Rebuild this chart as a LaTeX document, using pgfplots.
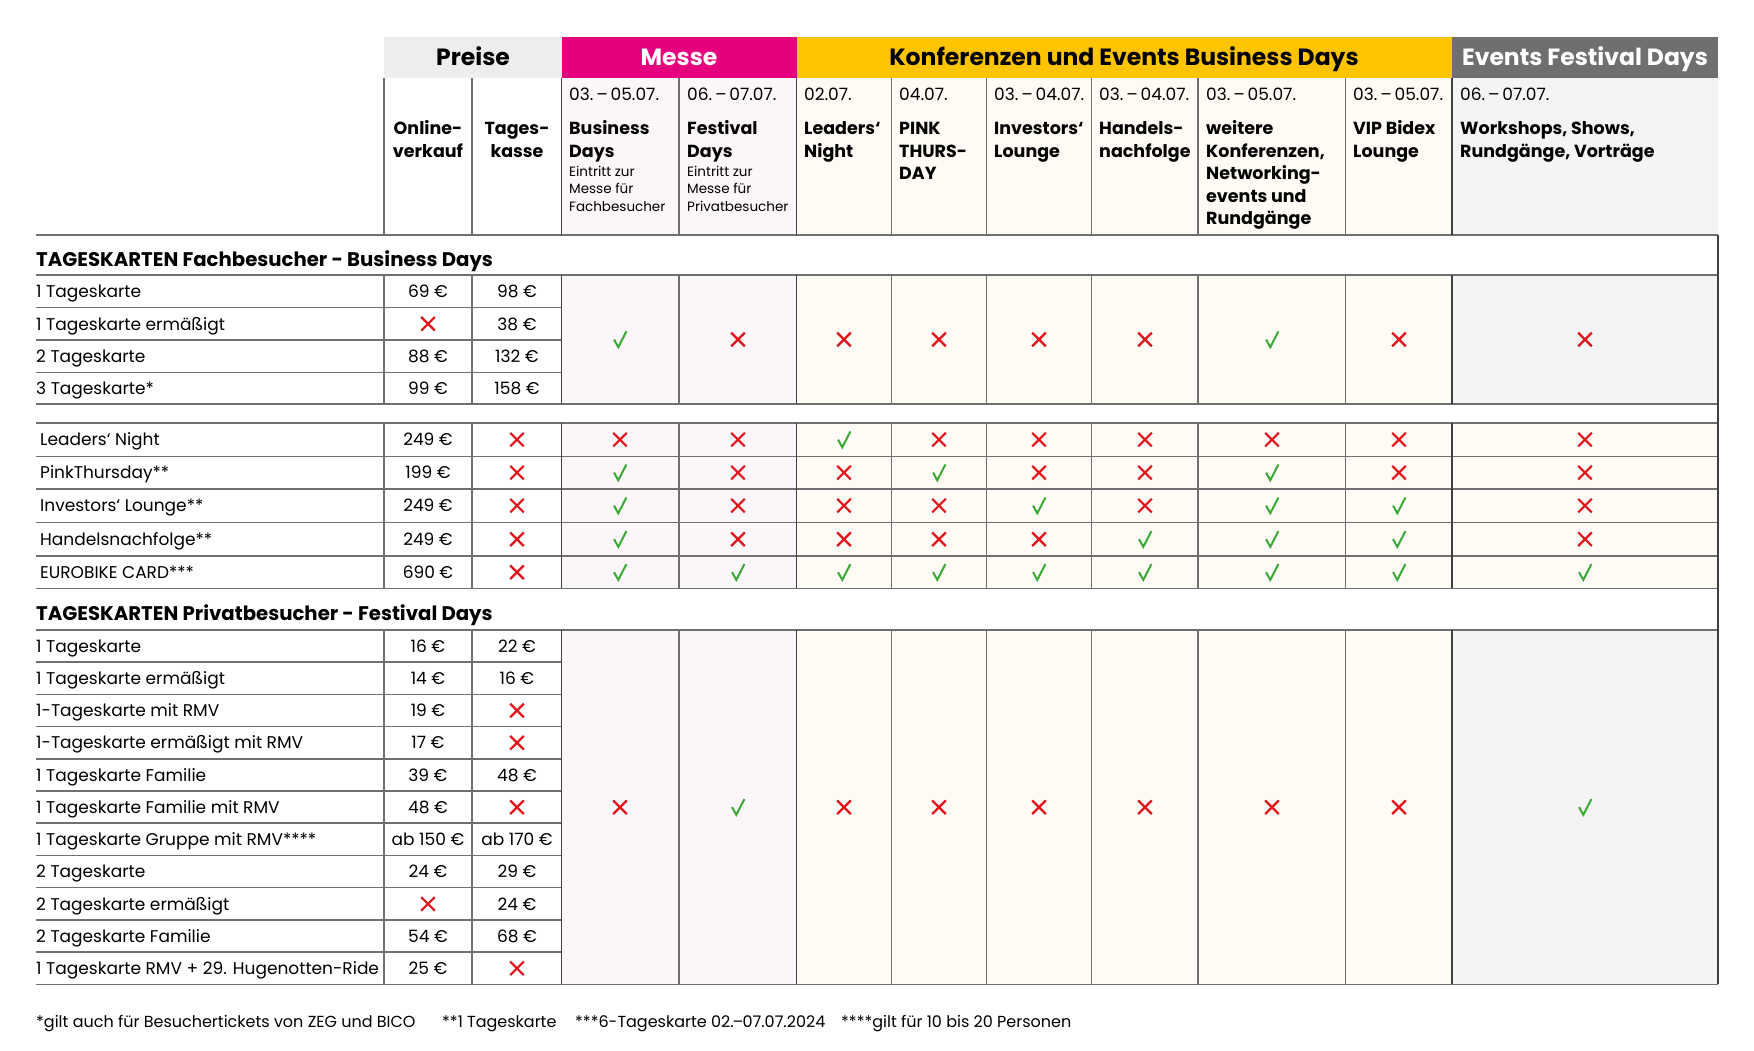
\documentclass[border=0pt]{standalone}
\usepackage{fontspec}
\setmainfont{Poppins}
\usepackage{pgfplots}
\usepackage{pgfplotstable}
\pgfplotsset{compat=1.18}

\definecolor{messe}{HTML}{E5007D}
\definecolor{konf}{HTML}{FFC400}
\definecolor{festhead}{HTML}{6F6F6F}
\definecolor{preishead}{HTML}{EDEDED}
\definecolor{pinkbg}{HTML}{FBF6FA}
\definecolor{creambg}{HTML}{FDFBF4}
\definecolor{graybg}{HTML}{F4F4F4}
\definecolor{okgreen}{HTML}{3BA935}
\definecolor{nored}{HTML}{E2141B}
\definecolor{rule}{HTML}{707070}

\newcommand\bodyfont{\fontsize{17}{20}\selectfont}
\newcommand\headfont{\bfseries\fontsize{17.5}{20}\selectfont}
\newcommand\smallfont{\fontsize{13.5}{16}\selectfont}

% tick and cross marks
\pgfdeclareplotmark{chk}{%
  \pgfpathmoveto{\pgfqpoint{-0.7\pgfplotmarksize}{0.0\pgfplotmarksize}}%
  \pgfpathlineto{\pgfqpoint{-0.2\pgfplotmarksize}{-0.9\pgfplotmarksize}}%
  \pgfpathlineto{\pgfqpoint{0.75\pgfplotmarksize}{0.95\pgfplotmarksize}}%
  \pgfusepathqstroke}
\pgfdeclareplotmark{crs}{%
  \pgfpathmoveto{\pgfqpoint{-0.85\pgfplotmarksize}{-0.85\pgfplotmarksize}}%
  \pgfpathlineto{\pgfqpoint{0.85\pgfplotmarksize}{0.85\pgfplotmarksize}}%
  \pgfpathmoveto{\pgfqpoint{-0.85\pgfplotmarksize}{0.85\pgfplotmarksize}}%
  \pgfpathlineto{\pgfqpoint{0.85\pgfplotmarksize}{-0.85\pgfplotmarksize}}%
  \pgfusepathqstroke}
\pgfdeclareplotmark{blank}{}

\pgfplotsset{txt/.style={only marks, mark=blank,
  nodes near coords, point meta=explicit symbolic,
  every node near coord/.append style={inner sep=0pt, text=black, yshift=-3.5pt, #1}}}
\tikzset{
  hb/.style={anchor=mid west, inner sep=0pt, yshift=-3.5pt, font=\headfont},
  hc/.style={anchor=mid, inner sep=0pt, yshift=-3.5pt, font=\headfont},
  hd/.style={anchor=mid west, inner sep=0pt, yshift=-3.5pt, font=\bodyfont},
  hs/.style={anchor=mid west, inner sep=0pt, yshift=-3pt, font=\smallfont},
  band/.style={anchor=mid, inner sep=0pt, yshift=-5pt, font=\bfseries\fontsize{23.5}{26}\selectfont},
  sect/.style={anchor=mid west, inner sep=0pt, yshift=-4pt, font=\bfseries\fontsize{19.7}{22}\selectfont},
  foot/.style={anchor=mid west, inner sep=0pt, yshift=-3.5pt, font=\fontsize{16}{18}\selectfont},
}

% row labels
\pgfplotstableread[col sep=comma]{
x,y,t
36,291.3,1 Tageskarte
36,323.8,1 Tageskarte ermäßigt
36,356.3,2 Tageskarte
36,388.3,3 Tageskarte*
40,439.6,Leaders‘ Night
40,472.6,PinkThursday**
40,505.6,Investors‘ Lounge**
40,539.2,Handelsnachfolge**
40,572.2,EUROBIKE CARD***
36,646.0,1 Tageskarte
36,678.2,1 Tageskarte ermäßigt
36,710.5,1-Tageskarte mit RMV
36,742.7,1-Tageskarte ermäßigt mit RMV
36,775.0,1 Tageskarte Familie
36,807.2,1 Tageskarte Familie mit RMV
36,839.4,1 Tageskarte Gruppe mit RMV****
36,871.7,2 Tageskarte
36,903.9,2 Tageskarte ermäßigt
36,936.2,2 Tageskarte Familie
36,968.3,1 Tageskarte RMV + 29. Hugenotten-Ride
}\labtab

% prices: Online-verkauf (x=428), Tageskasse (x=517)
\pgfplotstableread[col sep=comma]{
x,y,t
428,291.3,69 €
517,291.3,98 €
517,323.8,38 €
428,356.3,88 €
517,356.3,132 €
428,388.3,99 €
517,388.3,158 €
428,439.6,249 €
428,472.6,199 €
428,505.6,249 €
428,539.2,249 €
428,572.2,690 €
428,646.0,16 €
517,646.0,22 €
428,678.2,14 €
517,678.2,16 €
428,710.5,19 €
428,742.7,17 €
428,775.0,39 €
517,775.0,48 €
428,807.2,48 €
428,839.4,ab 150 €
517,839.4,ab 170 €
428,871.7,24 €
517,871.7,29 €
517,903.9,24 €
428,936.2,54 €
517,936.2,68 €
428,968.3,25 €
}\pricetab

\pgfplotstableread{
x y
620 339.5
1272 339.5
844 439.6
620 472.6
939 472.6
1272 472.6
620 505.6
1039 505.6
1272 505.6
1399 505.6
620 539.2
1145 539.2
1272 539.2
1399 539.2
620 572.2
738 572.2
844 572.2
939 572.2
1039 572.2
1145 572.2
1272 572.2
1399 572.2
1585 572.2
738 807.2
1585 807.2
}\yestab

\pgfplotstableread{
x y
428 323.8
738 339.5
844 339.5
939 339.5
1039 339.5
1145 339.5
1399 339.5
1585 339.5
517 439.6
620 439.6
738 439.6
939 439.6
1039 439.6
1145 439.6
1272 439.6
1399 439.6
1585 439.6
517 472.6
738 472.6
844 472.6
1039 472.6
1145 472.6
1399 472.6
1585 472.6
517 505.6
738 505.6
844 505.6
939 505.6
1145 505.6
1585 505.6
517 539.2
738 539.2
844 539.2
939 539.2
1039 539.2
1585 539.2
517 572.2
517 710.5
517 742.7
517 807.2
517 968.3
428 903.9
620 807.2
844 807.2
939 807.2
1039 807.2
1145 807.2
1272 807.2
1399 807.2
}\notab

\begin{document}
\begin{tikzpicture}
\begin{axis}[
  width=1754pt, height=1050pt, scale only axis,
  xmin=0, xmax=1754, ymin=0, ymax=1050, y dir=reverse,
  hide axis, clip=false,
]
\fill[white] (0,0) rectangle (1754,1050);

% header band
\fill[preishead] (384,37) rectangle (561.5,78);
\fill[messe] (561.5,37) rectangle (796.5,78);
\fill[konf] (796.5,37) rectangle (1452,78);
\fill[festhead] (1452,37) rectangle (1718,78);

% column shading
\fill[pinkbg] (561.5,78) rectangle (796.5,235);
\fill[creambg] (796.5,78) rectangle (1452,235);
\fill[graybg] (1452,78) rectangle (1718,235);
\fill[pinkbg] (561.5,275) rectangle (796.5,404);
\fill[creambg] (796.5,275) rectangle (1452,404);
\fill[graybg] (1452,275) rectangle (1718,404);
\fill[pinkbg] (561.5,423) rectangle (796.5,588.4);
\fill[creambg] (796.5,423) rectangle (1718,588.4);
\fill[pinkbg] (561.5,629.8) rectangle (796.5,984.4);
\fill[creambg] (796.5,629.8) rectangle (1452,984.4);
\fill[graybg] (1452,629.8) rectangle (1718,984.4);

% horizontal rules
\pgfplotsinvokeforeach{235,275,404,423,456.4,488.8,522.4,556,588.4,629.8,984.4}{
  \draw[rule, line width=1.5pt] (36,#1) -- (1718,#1);
}
\pgfplotsinvokeforeach{307.6,340,372.5,662.0,694.3,726.5,758.8,791.0,823.2,855.5,887.7,920.0,952.2}{
  \draw[rule, line width=1.5pt] (36,#1) -- (561.5,#1);
}
% vertical rules
\pgfplotsinvokeforeach{384,472,679,891.5,986.6,1091.8,1198,1345.7}{
  \draw[rule, line width=1.1pt] (#1,78) -- (#1,235);
  \draw[rule, line width=1.1pt] (#1,275) -- (#1,404);
  \draw[rule, line width=1.1pt] (#1,423) -- (#1,588.4);
  \draw[rule, line width=1.1pt] (#1,629.8) -- (#1,984.4);
}
\pgfplotsinvokeforeach{561.5,796.5,1452}{
  \draw[black!75, line width=1.4pt] (#1,78) -- (#1,235);
  \draw[black!75, line width=1.4pt] (#1,275) -- (#1,404);
  \draw[black!75, line width=1.4pt] (#1,423) -- (#1,588.4);
  \draw[black!75, line width=1.4pt] (#1,629.8) -- (#1,984.4);
}
\draw[black!75, line width=1.4pt] (1718,235) -- (1718,984.4);

% band titles
\node[band] at (473,58) {Preise};
\node[band, text=white] at (679,58) {Messe};
\node[band] at (1124,58) {Konferenzen und Events Business Days};
\node[band, text=white] at (1585,58) {Events Festival Days};

% column heads
\node[hc] at (428,128.6) {Online-};
\node[hc] at (428,151) {verkauf};
\node[hc] at (517,128.6) {Tages-};
\node[hc] at (517,151) {kasse};

\node[hd] at (569,94) {03.\,–\,05.07.};
\node[hb] at (569,128.6) {Business};
\node[hb] at (569,151) {Days};
\node[hs] at (569,171) {Eintritt zur};
\node[hs] at (569,188) {Messe für};
\node[hs] at (569,206) {Fachbesucher};

\node[hd] at (687,94) {06.\,–\,07.07.};
\node[hb] at (687,128.6) {Festival};
\node[hb] at (687,151) {Days};
\node[hs] at (687,171) {Eintritt zur};
\node[hs] at (687,188) {Messe für};
\node[hs] at (687,206) {Privatbesucher};

\node[hd] at (804,94) {02.07.};
\node[hb] at (804,128.6) {Leaders‘};
\node[hb] at (804,151) {Night};

\node[hd] at (899,94) {04.07.};
\node[hb] at (899,128.6) {PINK};
\node[hb] at (899,151) {THURS-};
\node[hb] at (899,173.4) {DAY};

\node[hd] at (994,94) {03.\,–\,04.07.};
\node[hb] at (994,128.6) {Investors‘};
\node[hb] at (994,151) {Lounge};

\node[hd] at (1099,94) {03.\,–\,04.07.};
\node[hb] at (1099,128.6) {Handels-};
\node[hb] at (1099,151) {nachfolge};

\node[hd] at (1206,94) {03.\,–\,05.07.};
\node[hb] at (1206,128.6) {weitere};
\node[hb] at (1206,151) {Konferenzen,};
\node[hb] at (1206,173.4) {Networking-};
\node[hb] at (1206,195.8) {events und};
\node[hb] at (1206,218.2) {Rundgänge};

\node[hd] at (1353,94) {03.\,–\,05.07.};
\node[hb] at (1353,128.6) {VIP Bidex};
\node[hb] at (1353,151) {Lounge};

\node[hd] at (1460,94) {06.\,–\,07.07.};
\node[hb] at (1460,128.6) {Workshops, Shows,};
\node[hb] at (1460,151) {Rundgänge, Vorträge};

% section titles
\node[sect] at (36,259.5) {TAGESKARTEN Fachbesucher - Business Days};
\node[sect] at (36,614) {TAGESKARTEN Privatbesucher - Festival Days};

% data
\addplot[txt={anchor=mid west, font=\bodyfont}] table[x=x, y=y, meta=t] {\labtab};
\addplot[txt={anchor=mid, font=\bodyfont}] table[x=x, y=y, meta=t] {\pricetab};
\addplot[only marks, mark=chk, mark size=8.5pt, okgreen, line width=2pt] table[x=x, y=y] {\yestab};
\addplot[only marks, mark=crs, mark size=8pt, nored, line width=2.2pt] table[x=x, y=y] {\notab};

% footnotes
\node[foot] at (36,1021) {*gilt auch für Besuchertickets von ZEG und BICO};
\node[foot] at (442,1021) {**1 Tageskarte};
\node[foot] at (575,1021) {***6-Tageskarte 02.\kern-1pt–\kern-1pt07.07.2024};
\node[foot] at (841,1021) {****gilt für 10 bis 20 Personen};
\end{axis}
\end{tikzpicture}
\end{document}
